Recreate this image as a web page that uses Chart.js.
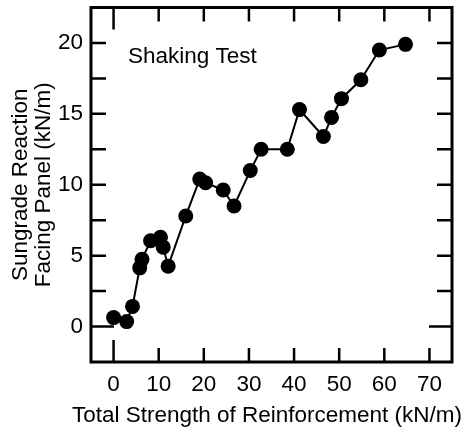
<!DOCTYPE html>
<html>
<head>
<meta charset="utf-8">
<script src="https://cdn.jsdelivr.net/npm/chart.js@4.4.1/dist/chart.umd.min.js"></script>
<style>
html, body { margin: 0; padding: 0; background: #fff; }
#wrap { width: 473px; height: 429px; }
</style>
</head>
<body>
<div id="wrap"><canvas id="myChart"></canvas></div>
<script>
// Data
const strength = [0, 2.9, 4.2, 5.8, 6.3, 8.2, 10.4, 11.0, 12.1, 16.0, 19.1, 20.4,
	24.3, 26.7, 30.3, 32.7, 38.5, 41.2, 46.5, 48.3, 50.5, 54.8, 58.9, 64.7];
const reaction = [0.63, 0.35, 1.42, 4.14, 4.74, 6.05, 6.3, 5.6, 4.26, 7.8, 10.4, 10.14,
	9.63, 8.5, 11.0, 12.5, 12.5, 15.3, 13.4, 14.75, 16.07, 17.4, 19.5, 19.9];

const xTicks = [0, 10, 20, 30, 40, 50, 60, 70];
const yTicks = [0, 5, 10, 15, 20];
const yMinorTicks = [2.5, 7.5, 12.5, 17.5];

const xTitle = 'Total Strength of Reinforcement (kN/m)';
const yTitle = ['Sungrade Reaction', 'Facing Panel (kN/m)'];
const note = 'Shaking Test';

const fontName = "'Liberation Sans', Arial, sans-serif";
const fontSize = 22.5;

let points = strength.map((x, i) => ({x: x, y: reaction[i]}));

// frame, inside tick marks, the note and the x title
// (x title drawn here so Chart.js does not squeeze it to the axis width)
const framePlugin = {
	id: 'frame',
	afterDraw(chart) {
		const ctx = chart.ctx;
		const area = chart.chartArea;
		const xs = chart.scales.x;
		const ys = chart.scales.y;
		ctx.save();
		ctx.strokeStyle = '#000';
		ctx.lineWidth = 2.5;
		ctx.beginPath();
		xTicks.forEach(v => {
			let px = xs.getPixelForValue(v);
			let len = v === 0 ? 22 : 14;
			ctx.moveTo(px, area.bottom);
			ctx.lineTo(px, area.bottom - len);
			ctx.moveTo(px, area.top);
			ctx.lineTo(px, area.top + len);
		});
		yTicks.concat(yMinorTicks).forEach(v => {
			let py = ys.getPixelForValue(v);
			let len = v === 0 ? 23 : 15;
			ctx.moveTo(area.left, py);
			ctx.lineTo(area.left + len, py);
			ctx.moveTo(area.right, py);
			ctx.lineTo(area.right - len, py);
		});
		ctx.stroke();
		ctx.lineWidth = 3;
		ctx.strokeRect(area.left, area.top, area.right - area.left, area.bottom - area.top);

		ctx.fillStyle = '#000';
		ctx.font = fontSize + 'px ' + fontName;
		ctx.textBaseline = 'alphabetic';
		ctx.textAlign = 'left';
		ctx.fillText(note, area.left + 37, area.top + 55);

		ctx.textAlign = 'center';
		ctx.fillText(xTitle, (area.left + area.right) / 2 - 4.5, xs.bottom - 7.5);
		ctx.restore();
	}
};

const myChart = document.getElementById('myChart');

let scatterChart = new Chart(myChart, {
	type: 'scatter',
	data: {
		datasets: [{
			data: points,
			showLine: true,
			borderColor: '#000',
			borderWidth: 2,
			backgroundColor: '#000',
			pointRadius: 7.5,
			pointHoverRadius: 7.5,
			pointBorderWidth: 0
		}]
	},
	options: {
		responsive: true,
		maintainAspectRatio: false,
		animation: false,
		devicePixelRatio: 1,
		layout: {
			padding: {top: 5, right: 21, left: 0, bottom: 0}
		},
		plugins: {
			legend: {display: false},
			tooltip: {enabled: false}
		},
		scales: {
			x: {
				type: 'linear',
				min: -5,
				max: 75,
				afterBuildTicks: scale => {
					scale.ticks = xTicks.map(v => ({value: v}));
				},
				afterFit: scale => {
					scale.height = 67;
					scale.paddingLeft = 0;
					scale.paddingRight = 0;
				},
				grid: {display: false, drawTicks: false},
				border: {display: false},
				ticks: {
					color: '#000',
					padding: 9,
					maxRotation: 0,
					font: {family: fontName, size: fontSize}
				}
			},
			y: {
				type: 'linear',
				min: -2.5,
				max: 22.5,
				afterBuildTicks: scale => {
					scale.ticks = yTicks.map(v => ({value: v}));
				},
				afterFit: scale => {
					scale.width = 91;
					scale.paddingTop = 0;
					scale.paddingBottom = 0;
				},
				grid: {display: false, drawTicks: false},
				border: {display: false},
				ticks: {
					color: '#000',
					padding: 8,
					font: {family: fontName, size: fontSize}
				},
				title: {
					display: true,
					text: yTitle,
					color: '#000',
					padding: {top: 9, bottom: 0},
					font: {family: fontName, size: fontSize, lineHeight: 1.02}
				}
			}
		}
	},
	plugins: [framePlugin]
});
</script>
</body>
</html>
